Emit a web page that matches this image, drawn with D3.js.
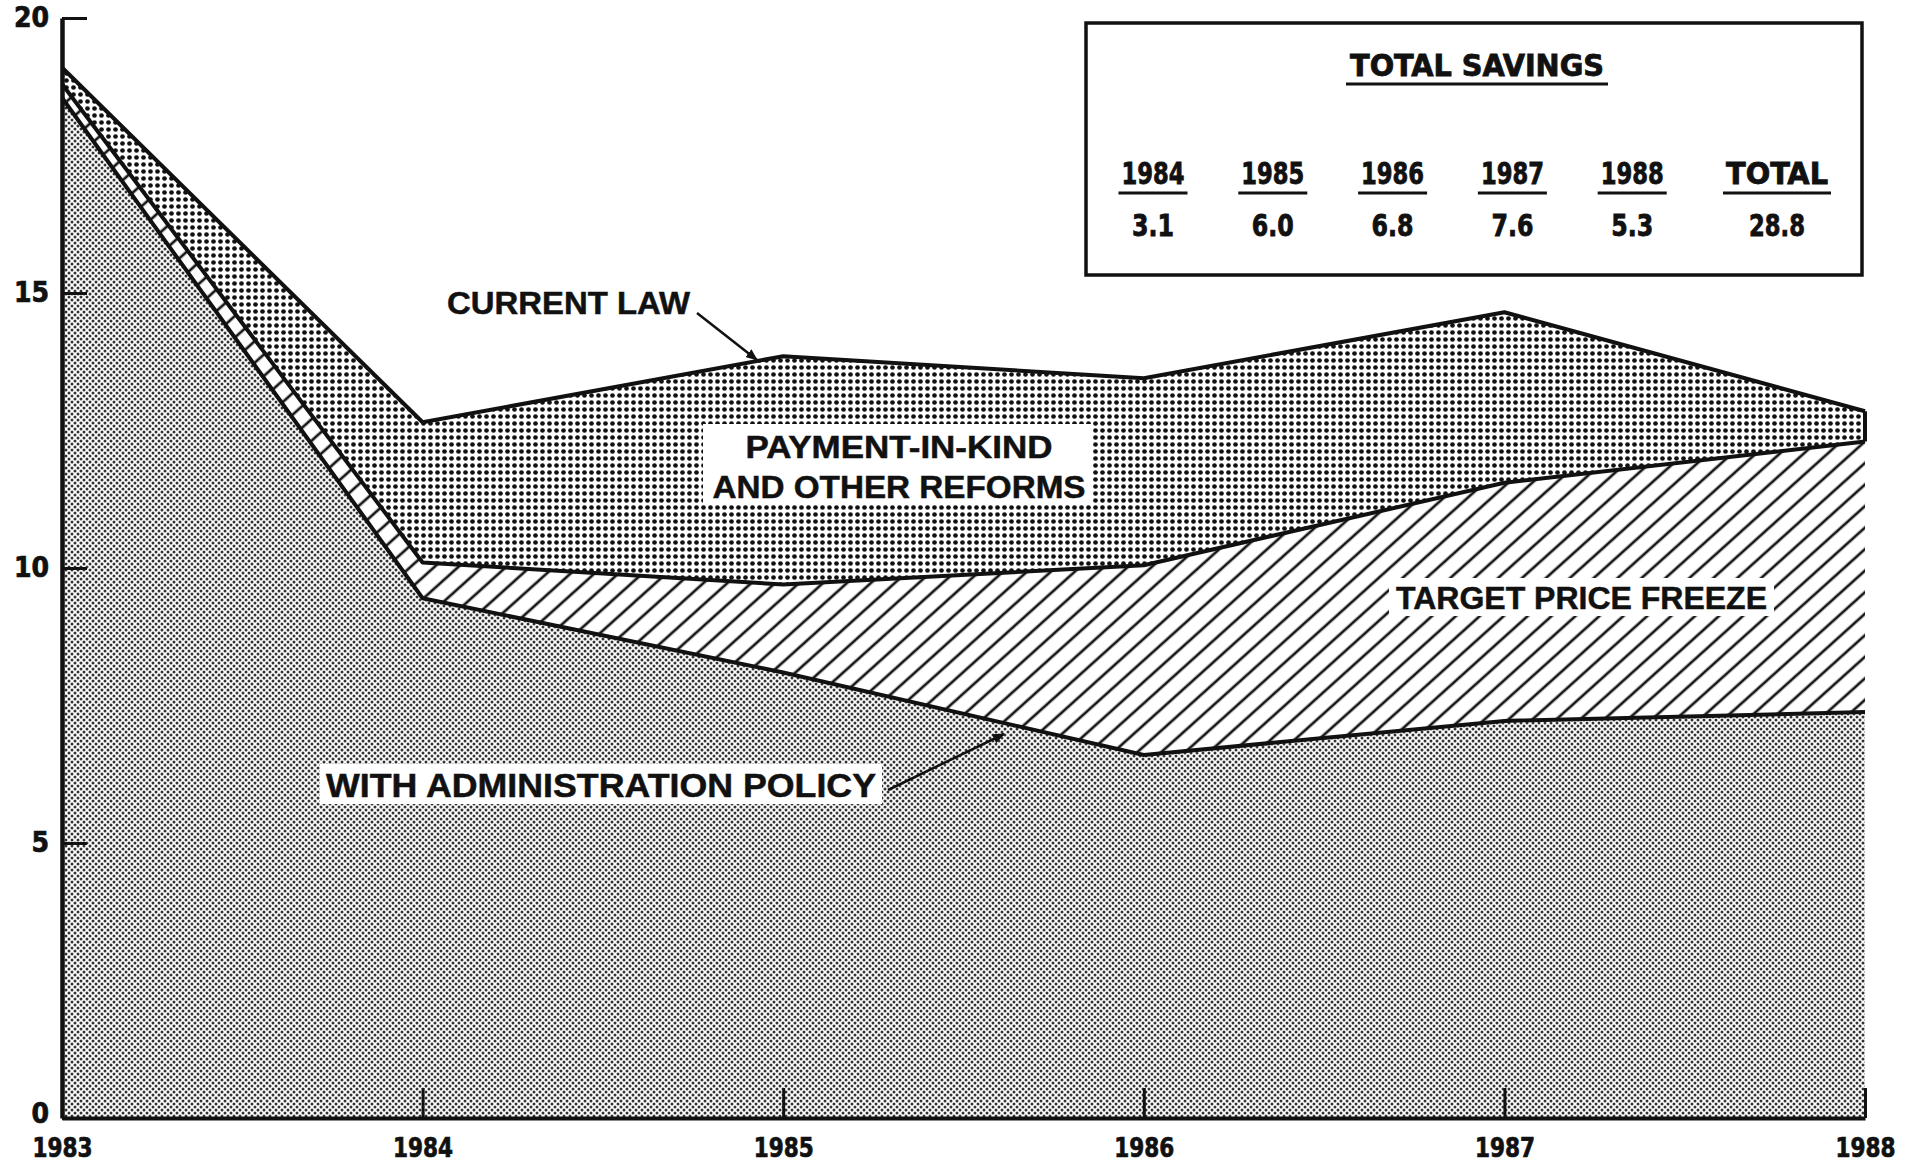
<!DOCTYPE html>
<html><head><meta charset="utf-8">
<script src="https://cdn.jsdelivr.net/npm/d3@7"></script>
<style>html,body{margin:0;padding:0;background:#fff;} svg{display:block}</style>
</head><body>
<svg id="chart" width="1915" height="1167"></svg>
<script>
// ---- data ----
const years = [1983, 1984, 1985, 1986, 1987, 1988];
const currentLaw = [19.1, 12.65, 13.85, 13.45, 14.65, 12.85];
const withPIK = [18.8, 10.1, 9.7, 10.05, 11.55, 12.3];
const withAdmin = [18.55, 9.45, 8.1, 6.6, 7.22, 7.38];
const yTicks = [0, 5, 10, 15, 20];
const savingsHeaders = ["1984", "1985", "1986", "1987", "1988", "TOTAL"];
const savingsValues = ["3.1", "6.0", "6.8", "7.6", "5.3", "28.8"];
const legendTitle = "TOTAL SAVINGS";
const labels = {
  current: "CURRENT LAW",
  pik: ["PAYMENT-IN-KIND", "AND OTHER REFORMS"],
  target: "TARGET PRICE FREEZE",
  admin: "WITH ADMINISTRATION POLICY"
};

// ---- setup ----
const svg = d3.select("#chart");
const INK = "#111";
const NARROW = "'Liberation Sans Narrow','DejaVu Sans Condensed','Arial Narrow',sans-serif";
const SANS = "'Liberation Sans',Arial,Helvetica,sans-serif";

const x = d3.scaleLinear().domain([1983, 1988]).range([62, 1865]);
const y = d3.scaleLinear().domain([0, 20]).range([1118, 18]);

svg.append("rect").attr("width", 1915).attr("height", 1167).attr("fill", "#fff");

const defs = svg.append("defs");
const pf = defs.append("pattern").attr("id", "fineDots").attr("patternUnits", "userSpaceOnUse")
  .attr("width", 6).attr("height", 6);
pf.append("rect").attr("width", 6).attr("height", 6).attr("fill", "#fff");
[[0,0],[6,0],[0,6],[6,6],[3,3]].forEach(p =>
  pf.append("circle").attr("cx", p[0]).attr("cy", p[1]).attr("r", 1.5).attr("fill", "#333"));
const pc = defs.append("pattern").attr("id", "coarseDots").attr("patternUnits", "userSpaceOnUse")
  .attr("width", 7).attr("height", 7);
pc.append("rect").attr("width", 7).attr("height", 7).attr("fill", "#fff");
pc.append("circle").attr("cx", 3.5).attr("cy", 3.5).attr("r", 2.35).attr("fill", "#111");
const ph = defs.append("pattern").attr("id", "hatch").attr("patternUnits", "userSpaceOnUse")
  .attr("width", 20).attr("height", 16).attr("patternTransform", "rotate(-42)");
ph.append("rect").attr("width", 20).attr("height", 16).attr("fill", "#fff");
ph.append("line").attr("x1", 0).attr("x2", 20).attr("y1", 8).attr("y2", 8)
  .attr("stroke", "#151515").attr("stroke-width", 2.7);
defs.append("marker").attr("id", "arrow").attr("viewBox", "0 0 12 10").attr("refX", 11).attr("refY", 5)
  .attr("markerWidth", 12).attr("markerHeight", 10).attr("markerUnits", "userSpaceOnUse").attr("orient", "auto")
  .append("path").attr("d", "M0,0 L12,5 L0,10 Z").attr("fill", INK);

const rows = years.map((yr, i) => ({ yr, cl: currentLaw[i], pik: withPIK[i], adm: withAdmin[i] }));

// ---- areas ----
svg.append("path").datum(rows).attr("fill", "url(#fineDots)")
  .attr("d", d3.area().x(d => x(d.yr)).y0(y(0)).y1(d => y(d.adm)));
svg.append("path").datum(rows).attr("fill", "url(#hatch)")
  .attr("d", d3.area().x(d => x(d.yr)).y0(d => y(d.adm)).y1(d => y(d.pik)));
svg.append("path").datum(rows).attr("fill", "url(#coarseDots)")
  .attr("d", d3.area().x(d => x(d.yr)).y0(d => y(d.pik)).y1(d => y(d.cl)));

// ---- boundary lines ----
const lineStyle = sel => sel.attr("fill", "none").attr("stroke", INK).attr("stroke-width", 4)
  .attr("stroke-linejoin", "round");
["cl", "pik", "adm"].forEach(k => {
  svg.append("path").datum(rows).call(lineStyle)
    .attr("d", d3.line().x(d => x(d.yr)).y(d => y(d[k])));
});
const last = rows[rows.length - 1];
svg.append("line").attr("x1", x(last.yr)).attr("x2", x(last.yr))
  .attr("y1", y(last.cl)).attr("y2", y(last.pik)).attr("stroke", INK).attr("stroke-width", 4);

// ---- axes ----
const yAxis = svg.append("g").attr("transform", `translate(${x(1983)},0)`)
  .call(d3.axisLeft(y).tickValues(yTicks).tickFormat(d3.format("d")).tickSize(-25).tickSizeOuter(0).tickPadding(13));
yAxis.select(".domain").attr("stroke", INK).attr("stroke-width", 4.5);
yAxis.selectAll(".tick line").attr("stroke", INK).attr("stroke-width", 3);
yAxis.selectAll(".tick text").attr("fill", INK).attr("stroke", INK).attr("stroke-width", 0.7)
  .style("font-family", NARROW).style("font-weight", "bold").style("font-size", "28px");
yAxis.selectAll(".tick").filter(d => d === 0).select("text").attr("dy", "0.15em");

const xAxis = svg.append("g").attr("transform", `translate(0,${y(0)})`)
  .call(d3.axisBottom(x).tickValues(years).tickFormat(d3.format("d")).tickSize(-30).tickSizeOuter(0).tickPadding(20));
xAxis.select(".domain").attr("stroke", INK).attr("stroke-width", 4);
xAxis.selectAll(".tick line").attr("stroke", INK).attr("stroke-width", 3);
xAxis.selectAll(".tick text").attr("fill", INK).attr("stroke", INK).attr("stroke-width", 0.7)
  .attr("textLength", 60).attr("lengthAdjust", "spacingAndGlyphs")
  .style("font-family", NARROW).style("font-weight", "bold").style("font-size", "27px");
yAxis.raise();

// ---- labels ----
const labelText = (g, txt, tx, ty, size, anchor, len) => {
  const t = g.append("text").attr("x", tx).attr("y", ty).text(txt)
    .attr("fill", INK).attr("stroke", INK).attr("stroke-width", 0.5)
    .style("font-family", SANS).style("font-weight", "bold").style("font-size", size + "px")
    .attr("text-anchor", anchor);
  if (len) t.attr("textLength", len).attr("lengthAdjust", "spacingAndGlyphs");
  return t;
};
const lab = svg.append("g");
labelText(lab, labels.current, 447, 314, 32, "start", 243);
lab.append("line").attr("x1", 697).attr("y1", 313).attr("x2", 757).attr("y2", 360)
  .attr("stroke", INK).attr("stroke-width", 2.5).attr("marker-end", "url(#arrow)");
lab.append("rect").attr("x", 703).attr("y", 424).attr("width", 390).attr("height", 81).attr("fill", "#fff");
labelText(lab, labels.pik[0], 899, 458, 32, "middle", 307);
labelText(lab, labels.pik[1], 899, 498, 32, "middle", 373);
lab.append("rect").attr("x", 1389).attr("y", 578).attr("width", 385).attr("height", 38).attr("fill", "#fff");
labelText(lab, labels.target, 1396, 609, 32, "start", 371);
lab.append("rect").attr("x", 320).attr("y", 764).attr("width", 562).attr("height", 40).attr("fill", "#fff");
labelText(lab, labels.admin, 326, 797, 33, "start", 550);
lab.append("line").attr("x1", 888).attr("y1", 790).attr("x2", 1004).attr("y2", 734)
  .attr("stroke", INK).attr("stroke-width", 2.5).attr("marker-end", "url(#arrow)");

// ---- savings box ----
const box = svg.append("g");
box.append("rect").attr("x", 1086).attr("y", 23).attr("width", 776).attr("height", 252)
  .attr("fill", "#fff").attr("stroke", INK).attr("stroke-width", 3.5);
const nText = (txt, tx, ty, len) => {
  const t = box.append("text").attr("x", tx).attr("y", ty).text(txt).attr("text-anchor", "middle")
    .attr("fill", INK).attr("stroke", INK).attr("stroke-width", 0.8)
    .style("font-family", NARROW).style("font-weight", "bold").style("font-size", "31px");
  if (len) t.attr("textLength", len).attr("lengthAdjust", "spacingAndGlyphs");
  return t;
};
nText(legendTitle, 1477, 76, 254);
box.append("line").attr("x1", 1346).attr("x2", 1608).attr("y1", 84).attr("y2", 84).attr("stroke", INK).attr("stroke-width", 3);
const colX = i => (i < 5 ? 1153 + i * 119.8 : 1777);
savingsHeaders.forEach((h, i) => {
  const w = h === "TOTAL" ? 102 : 63;
  nText(h, colX(i), 184, w);
  box.append("line").attr("x1", colX(i) - w / 2 - 3).attr("x2", colX(i) + w / 2 + 3)
    .attr("y1", 193).attr("y2", 193).attr("stroke", INK).attr("stroke-width", 3);
});
savingsValues.forEach((v, i) => nText(v, colX(i), 236, v.length > 3 ? 56 : 42));
</script>
</body></html>
